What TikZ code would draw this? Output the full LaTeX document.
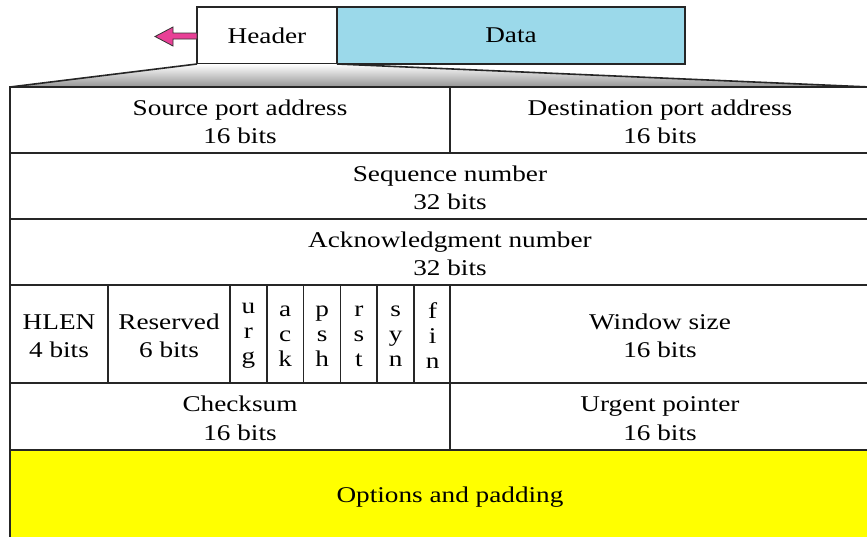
\documentclass[tikz,border=0pt]{standalone}
\usepackage{fontspec}
\setmainfont{Liberation Serif}[FakeStretch=1.21]
\usepackage{xcolor}
\usepackage{tikz}
\usetikzlibrary{positioning}
\definecolor{datablue}{RGB}{155,217,234}
\definecolor{arrowpink}{RGB}{232,64,150}
\definecolor{optyellow}{RGB}{255,255,0}
\tikzset{
	fieldbox/.style={rectangle, draw=black!85, fill=white, line width=1.6pt, inner sep=0pt, outer sep=0pt, align=center, font=\fontsize{22.5}{28.5}\selectfont},
	flagbox/.style={fieldbox, minimum width=36.83pt, minimum height=102pt, font=\fontsize{22.5}{25}\selectfont},
	segbox/.style={rectangle, draw=black!85, line width=1.6pt, inner sep=0pt, outer sep=0pt, minimum height=57pt, font=\fontsize{22.5}{26}\selectfont}
}
\begin{document}
\begin{tikzpicture}[x=1pt, y=-1pt]
		\clip (0,0) rectangle (867,536);
		\fill[white] (0,0) rectangle (867,536);
		%Segment
		\node[segbox, minimum width=140pt] at (267,35.5) (hdr) {Header};
		\node[segbox, fill=datablue, minimum width=348pt] at (511,35.5) (data) {Data};
		%Header fields
		\node[fieldbox, minimum width=460pt, minimum height=70pt] at (240,122) (src) {Source port address\\16 bits};
		\node[fieldbox, minimum width=420pt, minimum height=70pt] at (660,122) (dst) {Destination port address\\16 bits};
		\node[fieldbox, minimum width=880pt, minimum height=70pt] at (450,188) (seq) {Sequence number\\32 bits};
		\node[fieldbox, minimum width=880pt, minimum height=70pt] at (450,254) (ack) {Acknowledgment number\\32 bits};
		\node[fieldbox, minimum width=98pt, minimum height=102pt] at (59,336) (hlen) {HLEN\\4 bits};
		\node[fieldbox, minimum width=122pt, minimum height=102pt] at (169,336) (resv) {Reserved\\6 bits};
		\node[flagbox] at (248.4,336) (urg) {u\\r\\g};
		\node[flagbox] at (285.2,336) (fack) {a\\c\\k};
		\node[flagbox] at (322.1,336) (psh) {p\\s\\h};
		\node[flagbox] at (358.9,336) (rst) {r\\s\\t};
		\node[flagbox] at (395.7,336) (syn) {s\\y\\n};
		\node[flagbox] at (432.6,336) (fin) {f\\i\\n};
		\node[fieldbox, minimum width=420pt, minimum height=102pt] at (660,336) (win) {Window size\\16 bits};
		\node[fieldbox, minimum width=460pt, minimum height=71pt] at (240,418.5) (chk) {Checksum\\16 bits};
		\node[fieldbox, minimum width=420pt, minimum height=71pt] at (660,418.5) (urgp) {Urgent pointer\\16 bits};
		\node[fieldbox, fill=optyellow, minimum width=880pt, minimum height=95pt] at (450,497.5) (opt) {Options and padding};
		%Lines
		\coordinate (zoomr) at (870,87);
		\shade[top color=white, bottom color=black!42] (hdr.south west) -- (src.north west) -- (zoomr) -- (hdr.south east) -- cycle;
		\draw[line width=1.6pt, black!85] (hdr.south west) -- (src.north west);
		\draw[line width=1.6pt, black!85] (hdr.south east) -- (zoomr);
		\draw[line width=1.6pt, black!85] (src.north west) -- (zoomr);
		\coordinate (tip) at (155,36.5);
		\draw[fill=arrowpink, draw=black!80, line width=0.8pt] (hdr.west) ++(0,-2.5) -- (173,33) -- (173,27) -- (tip) -- (173,46) -- (173,39) -- ++(24,0) -- cycle;
	\end{tikzpicture}
\end{document}
